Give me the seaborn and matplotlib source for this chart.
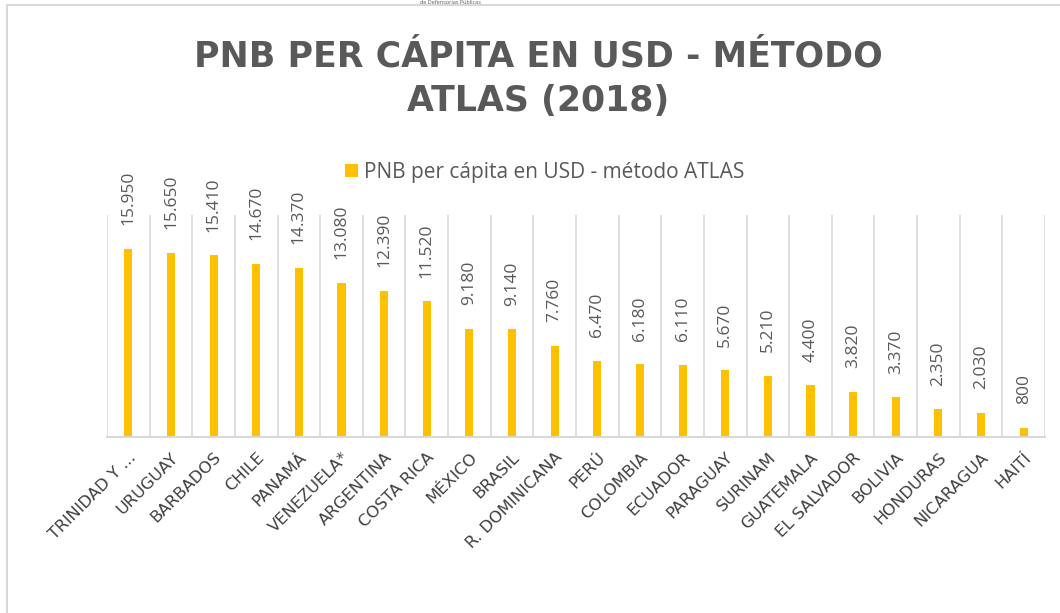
import matplotlib
matplotlib.use("Agg")
import matplotlib.pyplot as plt
import seaborn as sns
import numpy as np
import pandas as pd
from matplotlib.patches import Rectangle, Patch

countries = ["TRINIDAD Y ...", "URUGUAY", "BARBADOS", "CHILE", "PANAMÁ", "VENEZUELA*",
             "ARGENTINA", "COSTA RICA", "MÉXICO", "BRASIL", "R. DOMINICANA", "PERÚ",
             "COLOMBIA", "ECUADOR", "PARAGUAY", "SURINAM", "GUATEMALA", "EL SALVADOR",
             "BOLIVIA", "HONDURAS", "NICARAGUA", "HAITÍ"]
values = [15950, 15650, 15410, 14670, 14370, 13080, 12390, 11520, 9180, 9140, 7760,
          6470, 6180, 6110, 5670, 5210, 4400, 3820, 3370, 2350, 2030, 800]
series_name = "PNB per cápita en USD - método ATLAS"
title = "PNB PER CÁPITA EN USD - MÉTODO\nATLAS (2018)"

sns.set_theme(style="white")
plt.rcParams['font.family'] = ['Open Sans', 'DejaVu Sans']

df = pd.DataFrame({"pais": countries, "valor": values})

fig = plt.figure(figsize=(10.6, 6.13), dpi=100)
ax = fig.add_axes([107/1060, 1-437/613, (1045-107)/1060, (437-215)/613])

bar_color = "#FFC000"
sns.barplot(data=df, x="pais", y="valor", color=bar_color, width=0.19,
            saturation=1, ax=ax, edgecolor="none")

n = len(countries)
ax.set_xlim(-0.5, n - 0.5)
ax.set_ylim(0, 18835)
ax.set_xlabel("")
ax.set_ylabel("")
ax.set_yticks([])
ax.set_xticks(np.arange(n), minor=False)
ax.set_xticks(np.arange(n + 1) - 0.5, minor=True)
ax.tick_params(axis="x", which="both", length=0)
ax.grid(False)
ax.grid(which="minor", axis="x", color="#D9D9D9", linewidth=1.2)
for s in ["top", "right", "left"]:
    ax.spines[s].set_visible(False)
ax.spines["bottom"].set_color("#D9D9D9")
ax.spines["bottom"].set_linewidth(1.5)

ax.set_xticklabels(countries)
for lbl in ax.get_xticklabels():
    lbl.set_fontfamily("DejaVu Sans")
    lbl.set_fontsize(11.8)
    lbl.set_color("#404040")
    lbl.set_rotation(45)
    lbl.set_ha("right")
    lbl.set_va("top")
    lbl.set_rotation_mode("anchor")
    lbl.set_y(-0.035)

def fmt(v):
    return f"{v:,}".replace(",", ".")

for i, v in enumerate(values):
    ax.annotate(fmt(v), xy=(i, v), xytext=(0, 17), textcoords="offset points",
                rotation=90, ha="center", va="bottom", fontsize=12.5,
                color="#595959")

fig.text(538/1060, 1-79/613, title, ha="center", va="center", fontsize=25,
         fontweight="bold", color="#595959", linespacing=1.4,
         family=["DejaVu Sans"])

handle = Patch(facecolor=bar_color, edgecolor="none")
fig.legend([handle], [series_name], loc="center", bbox_to_anchor=(545/1060, 1-172/613),
           frameon=False, fontsize=15, labelcolor="#595959",
           handlelength=0.6, handleheight=0.6, handletextpad=0.3)

fig.patches.append(Rectangle((7/1060, -0.05), 1.1, 1-5/613+0.05,
                             transform=fig.transFigure, fill=False,
                             edgecolor="#D9D9D9", linewidth=1.5))
fig.text(450/1060, 1-2/613, "de Defensorías Públicas", ha="center", va="center",
         fontsize=4, color="#595959")

fig.savefig("out.png", dpi=100)
